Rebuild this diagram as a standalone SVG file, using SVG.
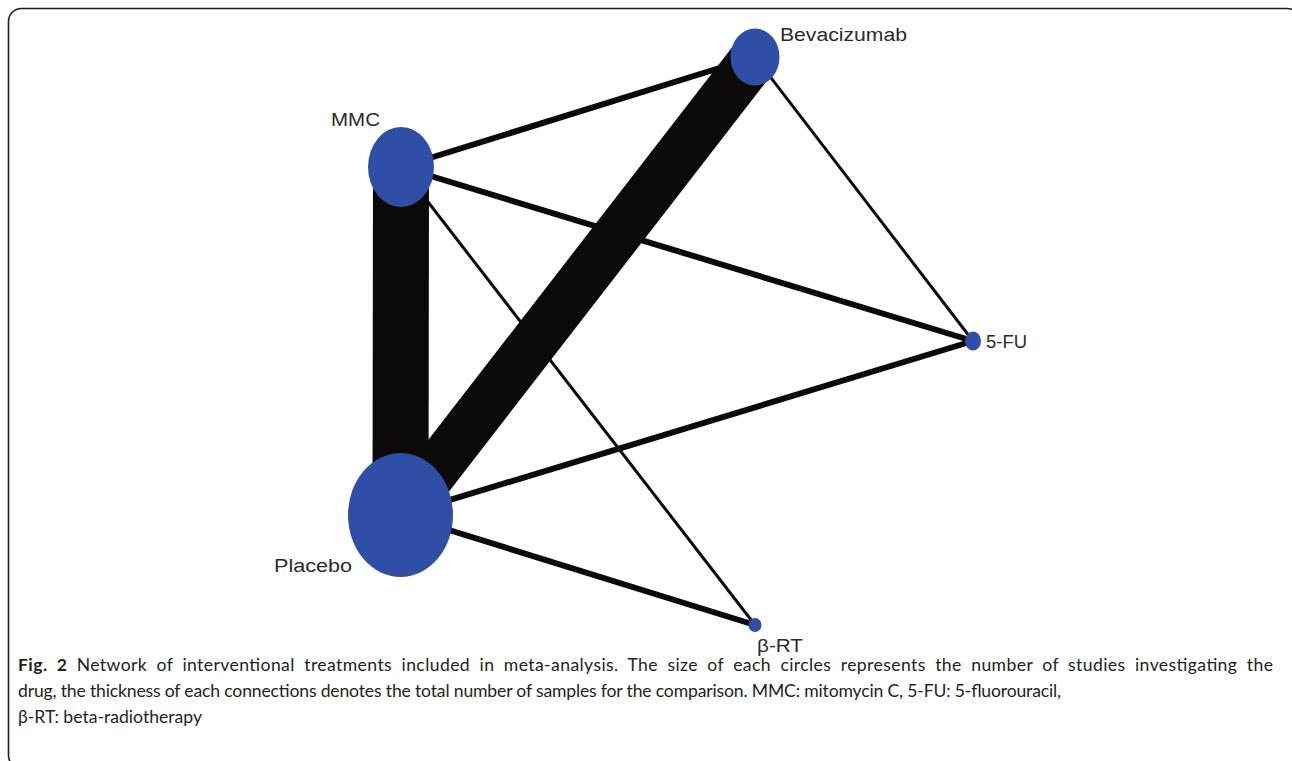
<svg xmlns="http://www.w3.org/2000/svg" width="1292" height="761" viewBox="0 0 1292 761">
<style>
.edge{stroke:#0b0a08;fill:none;stroke-linecap:butt}
.node{fill:#2f4fa6}
.lbl{font-family:"Liberation Sans",Arial,sans-serif;font-size:18px;fill:#2b2b2b}
.cap{font-family:Lato,"Open Sans",sans-serif;font-size:17.6px;fill:#231f20}
</style>
<rect x="8.5" y="8.5" width="1291.5" height="760" rx="13" fill="#ffffff" stroke="#231f20" stroke-width="1.6"/>
<g id="connectors">
<line class="edge" x1="401" y1="167" x2="400.5" y2="515" stroke-width="56"/>
<line class="edge" x1="400.5" y1="515" x2="755" y2="57" stroke-width="48"/>
<line class="edge" x1="401" y1="167" x2="755" y2="57" stroke-width="6"/>
<line class="edge" x1="401" y1="167" x2="973" y2="341" stroke-width="6"/>
<line class="edge" x1="755" y1="57" x2="973" y2="341" stroke-width="3"/>
<line class="edge" x1="401" y1="167" x2="755" y2="625" stroke-width="3"/>
<line class="edge" x1="400.5" y1="515" x2="973" y2="341" stroke-width="6"/>
<line class="edge" x1="400.5" y1="515" x2="755" y2="625" stroke-width="6"/>
</g>
<g id="node-mmc">
<ellipse class="node" cx="401" cy="167" rx="33" ry="40"/>
<text class="lbl" x="331" y="126" textLength="49" lengthAdjust="spacingAndGlyphs">MMC</text>
</g>
<g id="node-placebo">
<ellipse class="node" cx="400.5" cy="515" rx="52.5" ry="62"/>
<text class="lbl" x="274" y="572" textLength="78" lengthAdjust="spacingAndGlyphs">Placebo</text>
</g>
<g id="node-bevacizumab">
<ellipse class="node" cx="755" cy="57" rx="24.5" ry="28.5"/>
<text class="lbl" x="780" y="41" textLength="127" lengthAdjust="spacingAndGlyphs">Bevacizumab</text>
</g>
<g id="node-5fu">
<ellipse class="node" cx="973" cy="341" rx="8" ry="9.5"/>
<text class="lbl" x="986" y="348" textLength="41" lengthAdjust="spacingAndGlyphs">5-FU</text>
</g>
<g id="node-brt">
<ellipse class="node" cx="755" cy="625" rx="6.5" ry="7"/>
<text class="lbl" x="757" y="652" textLength="46" lengthAdjust="spacingAndGlyphs">β-RT</text>
</g>
<g id="caption">
<text class="cap" x="18" y="671" word-spacing="4.5" textLength="1255" lengthAdjust="spacing"><tspan font-weight="bold">Fig. 2</tspan> Network of interventional treatments included in meta-analysis. The size of each circles represents the number of studies investigating the</text>
<text class="cap" x="18" y="697" textLength="1043" lengthAdjust="spacing">drug, the thickness of each connections denotes the total number of samples for the comparison. MMC: mitomycin C, 5-FU: 5-fluorouracil,</text>
<text class="cap" x="18" y="723">β-RT: beta-radiotherapy</text>
</g>
</svg>
